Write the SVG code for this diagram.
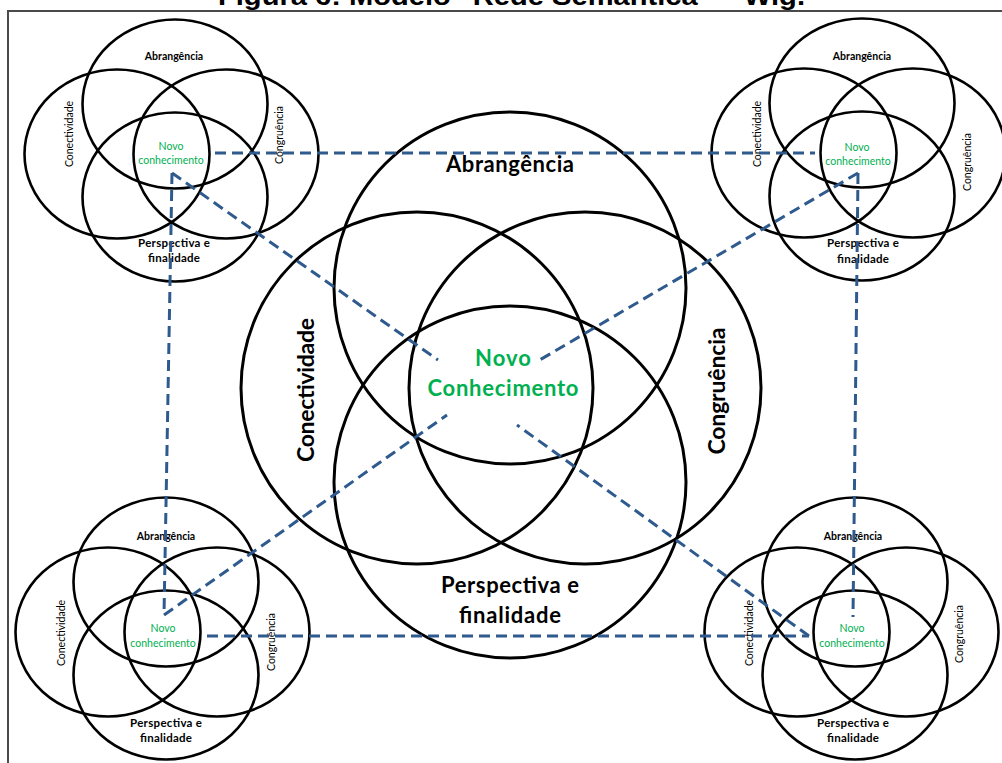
<svg xmlns="http://www.w3.org/2000/svg" width="1002" height="763" viewBox="0 0 1002 763">
  <defs>
    <style>
      .ring { fill: none; stroke: #000; stroke-width: 3; }
      .ring-s { fill: none; stroke: #000; stroke-width: 2.6; }
      .link { fill: none; stroke: #2F5A8E; stroke-width: 3; stroke-dasharray: 11 6; }
      .frame { fill: none; stroke: #4a4a4a; stroke-width: 2; }
      .title { font-family: "Liberation Sans", Arial, sans-serif; font-weight: bold; font-size: 26px; fill: #000; }
      .big { font-family: Lato, "Open Sans", sans-serif; font-weight: bold; font-size: 22px; fill: #000; text-anchor: middle; }
      .big-g { font-family: Lato, "Open Sans", sans-serif; font-weight: bold; font-size: 22px; fill: #00B050; text-anchor: middle; }
      .sm-b { font-family: Lato, "Open Sans", sans-serif; font-weight: bold; font-size: 10.5px; fill: #000; text-anchor: middle; }
      .sm-p { font-family: Lato, "Open Sans", sans-serif; font-weight: bold; font-size: 11.5px; fill: #000; text-anchor: middle; }
      .sm { font-family: Lato, "Open Sans", sans-serif; font-size: 10.5px; fill: #000; text-anchor: middle; }
      .sm-g { font-family: Lato, "Open Sans", sans-serif; font-size: 10.5px; fill: #00B050; text-anchor: middle; }
    </style>
    <!-- four overlapping rings of a small cluster, origin at the centre of the upper ring -->
    <g id="petals">
      <ellipse class="ring-s" cx="0" cy="0" rx="92.5" ry="84.5"/>
      <ellipse class="ring-s" cx="-58" cy="50" rx="92.5" ry="84.5"/>
      <ellipse class="ring-s" cx="51" cy="50" rx="92.5" ry="84.5"/>
      <ellipse class="ring-s" cx="0" cy="93" rx="92.5" ry="84.5"/>
    </g>
  </defs>

  <rect x="0" y="0" width="1002" height="763" fill="#fff"/>

  <!-- page frame and caption -->
  <rect class="frame" x="8" y="11" width="1010" height="770"/>
  <text class="title" x="218" y="5" textLength="587" lengthAdjust="spacingAndGlyphs">Figura 6: Modelo "Rede Semântica" – Wig.</text>

  <!-- central cluster -->
  <g id="main">
    <circle class="ring" cx="510" cy="288" r="176"/>
    <circle class="ring" cx="417" cy="388" r="176"/>
    <circle class="ring" cx="585" cy="388" r="176"/>
    <circle class="ring" cx="510" cy="482" r="176"/>
    <text class="big" x="510" y="172" textLength="128">Abrangência</text>
    <text class="big" style="font-size:23px" transform="translate(314 390) rotate(-90)" x="0" y="0" textLength="144">Conectividade</text>
    <text class="big" style="font-size:23px" transform="translate(725 391) rotate(-90)" x="0" y="0" textLength="127">Congruência</text>
    <text class="big-g" x="503" y="366" textLength="56">Novo</text>
    <text class="big-g" x="503" y="396" textLength="151">Conhecimento</text>
    <text class="big" x="510" y="593" textLength="138">Perspectiva e</text>
    <text class="big" x="510" y="623" textLength="102">finalidade</text>
  </g>

  <!-- upper-left cluster -->
  <g id="cluster-tl">
    <use href="#petals" transform="translate(175 104)"/>
    <text class="sm-b" x="174" y="60">Abrangência</text>
    <text class="sm" transform="translate(73 134) rotate(-90)">Conectividade</text>
    <text class="sm" transform="translate(283 135) rotate(-90)">Congruência</text>
    <text class="sm-g" x="171" y="150">Novo</text>
    <text class="sm-g" x="171" y="164">conhecimento</text>
    <text class="sm-p" x="174" y="247" textLength="72">Perspectiva e</text>
    <text class="sm-p" x="174" y="262" textLength="52">finalidade</text>
  </g>

  <!-- upper-right cluster -->
  <g id="cluster-tr">
    <use href="#petals" transform="translate(862 103)"/>
    <text class="sm-b" x="862" y="60">Abrangência</text>
    <text class="sm" transform="translate(761 134) rotate(-90)">Conectividade</text>
    <text class="sm" transform="translate(971 162) rotate(-90)">Congruência</text>
    <text class="sm-g" x="857" y="151">Novo</text>
    <text class="sm-g" x="858" y="165">conhecimento</text>
    <text class="sm-p" x="863" y="247" textLength="72">Perspectiva e</text>
    <text class="sm-p" x="863" y="263" textLength="52">finalidade</text>
  </g>

  <!-- lower-left cluster -->
  <g id="cluster-bl">
    <use href="#petals" transform="translate(166 582)"/>
    <text class="sm-b" x="166" y="540">Abrangência</text>
    <text class="sm" transform="translate(65 633) rotate(-90)">Conectividade</text>
    <text class="sm" transform="translate(275 642) rotate(-90)">Congruência</text>
    <text class="sm-g" x="163" y="632">Novo</text>
    <text class="sm-g" x="163" y="647">conhecimento</text>
    <text class="sm-p" x="166" y="727" textLength="72">Perspectiva e</text>
    <text class="sm-p" x="166" y="742" textLength="52">finalidade</text>
  </g>

  <!-- lower-right cluster -->
  <g id="cluster-br">
    <use href="#petals" transform="translate(855 582)"/>
    <text class="sm-b" x="853" y="540">Abrangência</text>
    <text class="sm" transform="translate(753 633) rotate(-90)">Conectividade</text>
    <text class="sm" transform="translate(963 634) rotate(-90)">Congruência</text>
    <text class="sm-g" x="852" y="632">Novo</text>
    <text class="sm-g" x="852" y="647">conhecimento</text>
    <text class="sm-p" x="853" y="727" textLength="72">Perspectiva e</text>
    <text class="sm-p" x="853" y="742" textLength="52">finalidade</text>
  </g>

  <!-- dashed links between the clusters -->
  <g id="connectors">
    <line class="link" x1="215" y1="153" x2="815" y2="153"/>
    <line class="link" x1="207" y1="636" x2="809" y2="636"/>
    <line class="link" x1="172" y1="173" x2="164" y2="615"/>
    <line class="link" x1="858" y1="173" x2="853" y2="617"/>
    <line class="link" x1="172" y1="173" x2="438" y2="360"/>
    <line class="link" x1="858" y1="173" x2="538" y2="361"/>
    <line class="link" x1="164" y1="615" x2="447" y2="415"/>
    <line class="link" x1="809" y1="636" x2="517" y2="425"/>
  </g>
</svg>
